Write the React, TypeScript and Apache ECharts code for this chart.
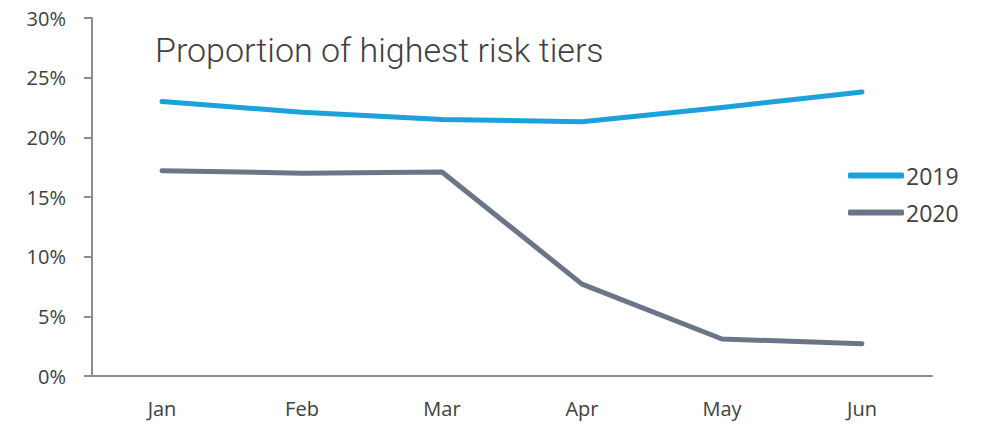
import React, { useEffect, useRef } from "react";
import * as echarts from "echarts";

const months = ["Jan", "Feb", "Mar", "Apr", "May", "Jun"];
const series2019 = [23.0, 22.1, 21.5, 21.3, 22.5, 23.8];
const series2020 = [17.2, 17.0, 17.1, 7.7, 3.1, 2.7];
const seriesNames = ["2019", "2020"];
const colors = ["#1BA1DB", "#6C7587"];
const titleText = "Proportion of highest risk tiers";

const labelFont = "'Open Sans', sans-serif";

export default function App() {
  const ref = useRef<HTMLDivElement>(null);
  useEffect(() => {
    if (!ref.current) return;
    const chart = echarts.init(ref.current, null, { renderer: "svg" });
    chart.setOption({
      animation: false,
      title: {
        text: titleText,
        left: 150,
        top: 28,
        textStyle: {
          fontFamily: "Roboto, sans-serif",
          fontWeight: 300,
          fontSize: 34,
          color: "#404040",
        },
      },
      legend: {
        orient: "vertical",
        left: 843,
        top: 159,
        icon: "roundRect",
        itemWidth: 56,
        itemHeight: 6,
        itemGap: 14,
        data: seriesNames,
        textStyle: { fontFamily: labelFont, fontSize: 23, color: "#404040", padding: [0, 0, 0, -3] },
      },
      grid: { left: 92, right: 50, top: 18, bottom: 49 },
      xAxis: {
        type: "category",
        data: months,
        boundaryGap: true,
        axisLine: { show: true, lineStyle: { color: "#8C8C8C", width: 2 } },
        axisTick: { show: false },
        axisLabel: { margin: 22, fontFamily: labelFont, fontSize: 20, color: "#404040" },
      },
      yAxis: {
        type: "value",
        min: 0,
        max: 30,
        interval: 5,
        splitLine: { show: false },
        axisLine: { show: true, lineStyle: { color: "#8C8C8C", width: 2 } },
        axisTick: { show: true, length: 8, lineStyle: { color: "#8C8C8C", width: 2 } },
        axisLabel: {
          margin: 26,
          fontFamily: labelFont,
          fontSize: 20,
          color: "#404040",
          formatter: (v: number) => `${v}%`,
        },
      },
      series: [
        {
          name: seriesNames[0],
          type: "line",
          data: series2019,
          symbol: "none",
          lineStyle: { color: colors[0], width: 5, cap: "round", join: "round" },
          itemStyle: { color: colors[0] },
        },
        {
          name: seriesNames[1],
          type: "line",
          data: series2020,
          symbol: "none",
          lineStyle: { color: colors[1], width: 5, cap: "round", join: "round" },
          itemStyle: { color: colors[1] },
        },
      ],
    });
    return () => chart.dispose();
  }, []);
  return <div ref={ref} style={{ width: 982, height: 425, position: "absolute", left: 0, top: 0 }} />;
}
